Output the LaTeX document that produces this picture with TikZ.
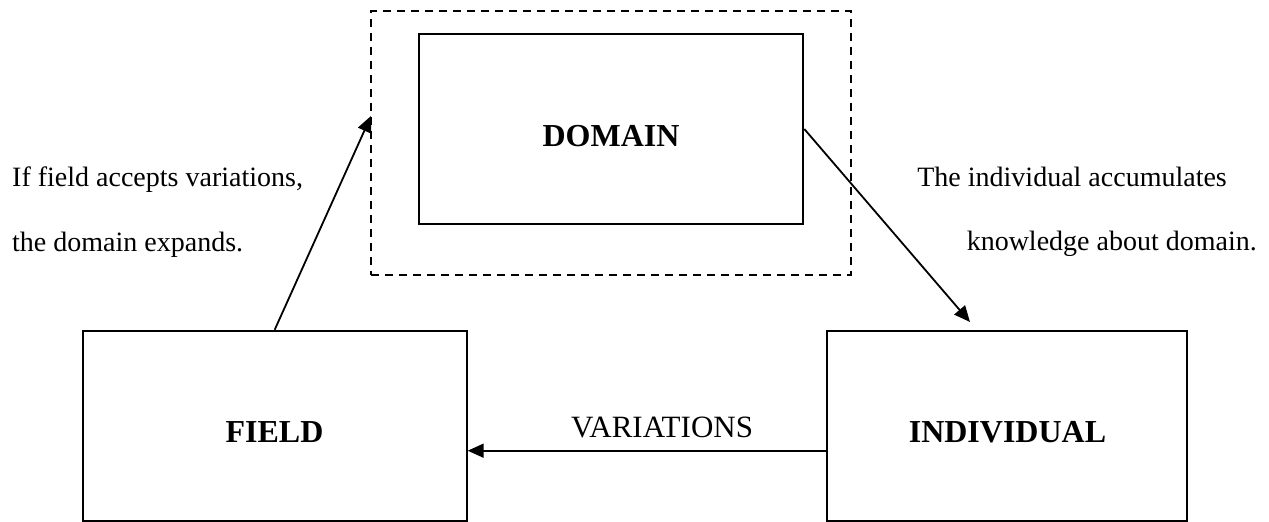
\documentclass[tikz,border=0pt]{standalone}
\usepackage{fontspec}
\setmainfont{Liberation Serif}
\usetikzlibrary{arrows.meta}
\begin{document}
\begin{tikzpicture}[x=1pt,y=-1pt,
  box/.style={draw,line width=2pt,inner sep=0pt},
  lab/.style={font=\fontsize{32}{36}\selectfont\bfseries,inner sep=0pt},
  note/.style={font=\fontsize{28}{32}\selectfont,inner sep=0pt,anchor=base west},
  arr/.style={line width=1.8pt,-{Triangle[length=16pt,width=14pt]}},
  dashbox/.style={draw,line width=2pt,dash pattern=on 8pt off 6pt,inner sep=0pt}]
\useasboundingbox (0,0) rectangle (1269,522);
% boxes
\node[dashbox,minimum width=480pt,minimum height=264pt] (outer) at (611,143) {};
\node[box,minimum width=384.6pt,minimum height=190pt] (domain) at (611,129) {};
\node[box,minimum width=384pt,minimum height=190.3pt] (field) at (274.7,425.9) {};
\node[box,minimum width=360.3pt,minimum height=190.3pt] (individual) at (1007,425.9) {};
% labels
\node[lab] (tdomain) at (611,136) {DOMAIN};
\node[lab] (tfield) at (274.5,431.7) {FIELD};
\node[lab] (tindividual) at (1007.5,431.7) {INDIVIDUAL};
\node[font=\fontsize{31}{34}\selectfont,inner sep=0pt,anchor=base] (tvar) at (662,437) {VARIATIONS};
\node[note] (l1) at (12,186.7) {If field accepts variations,};
\node[note] (l2) at (12,251.7) {the domain expands.};
\node[note,anchor=base east] (r1) at (1227,186) {The individual accumulates};
\node[note,anchor=base east] (r2) at (1257,250) {knowledge about domain.};
% connectors
\coordinate (tipF) at (371,116);
\coordinate (tipI) at (970,322);
\coordinate (vy) at (0,450.7);
\draw[arr] (field.north) -- (tipF);
\draw[arr] (domain.east) -- (tipI);
\draw[arr] (individual.west |- vy) -- (field.east |- vy);
\end{tikzpicture}
\end{document}
